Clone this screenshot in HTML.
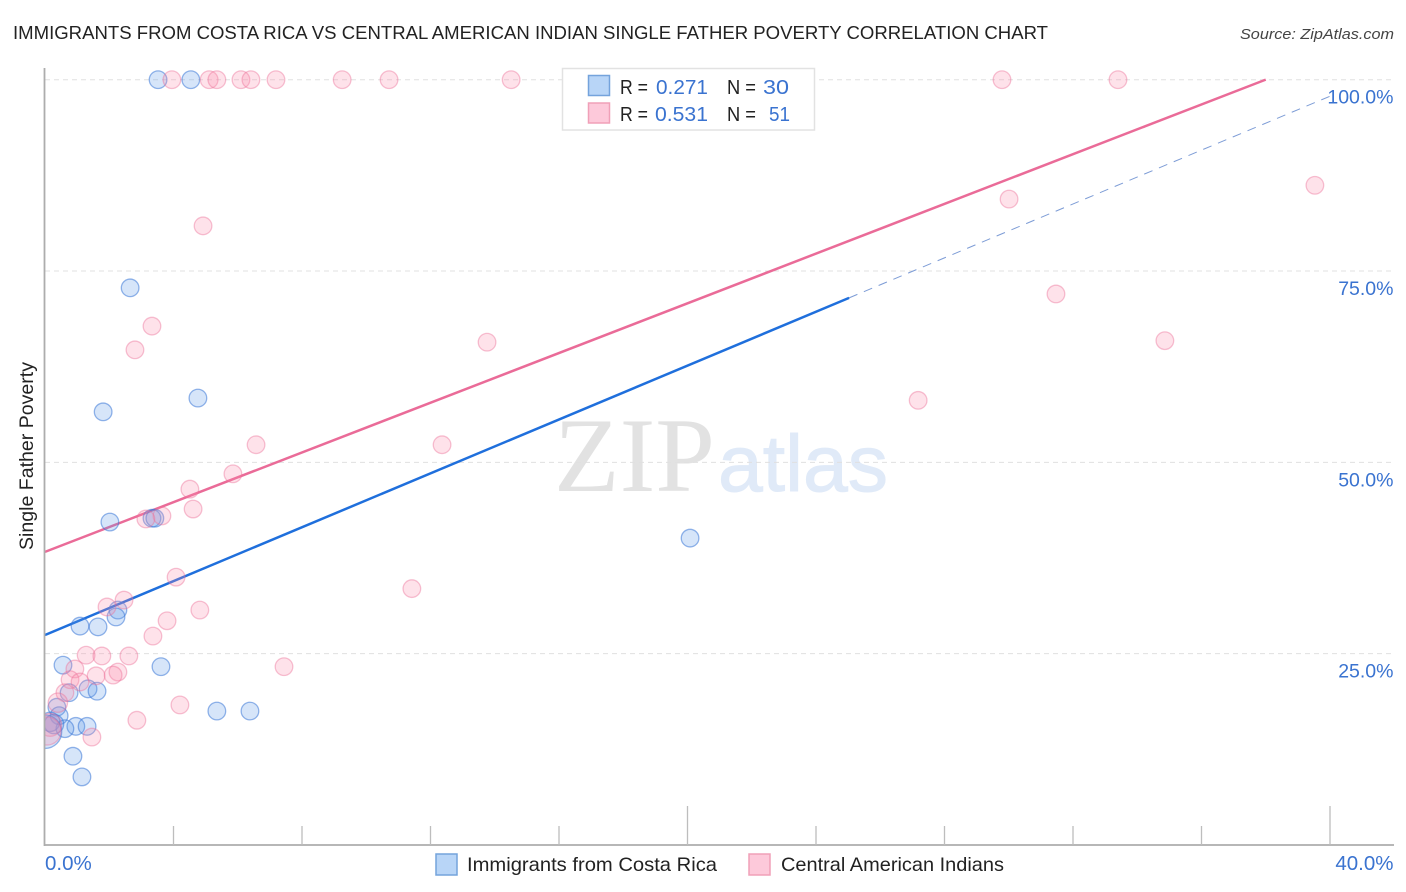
<!DOCTYPE html>
<html lang="en">
<head>
<meta charset="utf-8">
<title>Immigrants from Costa Rica vs Central American Indian Single Father Poverty Correlation Chart</title>
<style>
html,body{margin:0;padding:0;background:#fff;width:1406px;height:892px;overflow:hidden}
svg{display:block;font-family:"Liberation Sans",sans-serif}
</style>
</head>
<body>
<svg id="chart" xmlns="http://www.w3.org/2000/svg" width="1406" height="892" viewBox="0 0 1406 892">
  <defs><clipPath id="plot-clip"><rect x="45" y="60" width="1360" height="785"/></clipPath></defs>
  <text x="13" y="39" font-size="18.5" fill="#222" textLength="1035" lengthAdjust="spacingAndGlyphs">IMMIGRANTS FROM COSTA RICA VS CENTRAL AMERICAN INDIAN SINGLE FATHER POVERTY CORRELATION CHART</text>
  <text x="1394" y="39" font-size="15" font-style="italic" fill="#444" text-anchor="end" textLength="154" lengthAdjust="spacingAndGlyphs">Source: ZipAtlas.com</text>
  <g>
    <text x="554" y="491" font-family="'Liberation Serif',serif" font-size="106" fill="#e2e2e2" textLength="161" lengthAdjust="spacingAndGlyphs">ZIP</text>
    <text x="718" y="491" font-size="80" fill="#e0eaf8" stroke="#e0eaf8" stroke-width="1" textLength="170" lengthAdjust="spacingAndGlyphs">atlas</text>
  </g>
  <g id="grid"></g>
  <g id="trends"></g>
  <g id="points" clip-path="url(#plot-clip)"></g>
  <g id="axes"></g>
  <g>
    <rect x="562.5" y="68.5" width="252" height="61.5" fill="#fff" stroke="#e2e2e2" stroke-width="1.5"/>
    <rect x="588.5" y="75.5" width="21" height="20" fill="#b8d5f7" stroke="#74a3dc" stroke-width="1.5"/>
    <rect x="588.5" y="103" width="21" height="20" fill="#fdc9da" stroke="#f0a0b8" stroke-width="1.5"/>
    <g font-size="20">
      <text x="620" y="94" fill="#222" textLength="28" lengthAdjust="spacingAndGlyphs">R =</text>
      <text x="656" y="94" fill="#3a73d0" textLength="52" lengthAdjust="spacingAndGlyphs">0.271</text>
      <text x="727" y="94" fill="#222" textLength="29" lengthAdjust="spacingAndGlyphs">N =</text>
      <text x="763" y="94" fill="#3a73d0" textLength="26" lengthAdjust="spacingAndGlyphs" font-size="20.5">30</text>
      <text x="620" y="121" fill="#222" textLength="28" lengthAdjust="spacingAndGlyphs">R =</text>
      <text x="655" y="121" fill="#3a73d0" textLength="53" lengthAdjust="spacingAndGlyphs">0.531</text>
      <text x="727" y="121" fill="#222" textLength="29" lengthAdjust="spacingAndGlyphs">N =</text>
      <text x="769" y="121" fill="#3a73d0" textLength="21" lengthAdjust="spacingAndGlyphs" font-size="20.5">51</text>
    </g>
  </g>
  <text transform="translate(33,456) rotate(-90)" font-size="19" fill="#222" text-anchor="middle" textLength="188" lengthAdjust="spacingAndGlyphs">Single Father Poverty</text>
  <g>
    <rect x="436" y="854" width="21" height="21" fill="#b8d5f7" stroke="#74a3dc" stroke-width="1.5"/>
    <text x="467" y="871" font-size="19.5" fill="#222" textLength="250" lengthAdjust="spacingAndGlyphs">Immigrants from Costa Rica</text>
    <rect x="749" y="854" width="21" height="21" fill="#fdc9da" stroke="#f0a0b8" stroke-width="1.5"/>
    <text x="781" y="871" font-size="19.5" fill="#222" textLength="223" lengthAdjust="spacingAndGlyphs">Central American Indians</text>
  </g>
</svg>
<script>
const yTicks = [25, 50, 75, 100];
const yTickLabels = ['25.0%', '50.0%', '75.0%', '100.0%'];
const xTicks = [4, 8, 12, 16, 20, 24, 28, 32, 36, 40];
const xMajorTicks = [20, 40];
const xEndValues = [0, 40];
const xEndLabels = ['0.0%', '40.0%'];

const costaRicaX = [3.52,4.54,2.65,1.81,4.76,2.02,3.33,3.42,20.08,2.27,2.21,1.09,1.65,0.56,3.61,1.34,1.62,0.75,5.35,6.38,0.37,0.44,0.96,1.31,0.62,0.16,0.28,0.87,1.15,0.0];
const costaRicaY = [100,100,72.8,56.6,58.4,42.2,42.7,42.7,40.1,30.7,29.8,28.6,28.5,23.5,23.3,20.4,20.1,19.9,17.5,17.5,18.0,16.9,15.5,15.5,15.2,16.1,15.8,11.6,8.9,14.8];
const costaRicaWeight = [1,1,1,1,1,1,1,1,1,1,1,1,1,1,1,1,1,1,1,1,1,1,1,1,1,1.1,1.1,1,1,1.9];

const centralAmericanX = [3.95,5.11,5.35,6.10,6.41,7.19,9.25,10.71,14.51,29.79,33.40,39.53,30.01,4.92,31.47,3.33,2.80,13.76,34.86,27.18,12.36,6.57,5.85,4.51,4.61,3.64,3.14,11.42,4.08,4.82,2.46,1.93,3.80,3.36,1.28,1.77,2.61,7.44,2.27,2.12,1.59,0.93,0.78,1.09,0.62,4.20,2.86,1.46,0.40,0.16,0.06];
const centralAmericanY = [100,100,100,100,100,100,100,100,100,100,100,86.2,84.4,80.9,72.0,67.8,64.7,65.7,65.9,58.1,52.3,52.3,48.5,46.5,43.9,43.0,42.6,33.5,35.0,30.7,32.0,31.1,29.3,27.3,24.8,24.7,24.7,23.3,22.6,22.2,22.1,23.0,21.6,21.3,19.9,18.3,16.3,14.1,18.6,15.7,14.9];
const centralAmericanWeight = [1,1,1,1,1,1,1,1,1,1,1,1,1,1,1,1,1,1,1,1,1,1,1,1,1,1,1,1,1,1,1,1,1,1,1,1,1,1,1,1,1,1,1,1,1,1,1,1,1.1,1.3,1.6];

const costaRicaTrendIntercept = 27.44;
const costaRicaTrendSlope = 1.76;
const costaRicaTrendSolidEnd = 25.03;
const costaRicaTrendDashedEnd = 40;
const centralAmericanTrendIntercept = 38.3;
const centralAmericanTrendSlope = 1.624;
const centralAmericanTrendEnd = 38;

const NS = 'http://www.w3.org/2000/svg';
const xScale = v => 45 + v * 32.125;
const yScale = v => 845 - v * 7.653;

function make(tag, parent, attrs) {
  const el = document.createElementNS(NS, tag);
  for (const k in attrs) el.setAttribute(k, attrs[k]);
  parent.appendChild(el);
  return el;
}

const grid = document.getElementById('grid');
const axes = document.getElementById('axes');
const trends = document.getElementById('trends');
const points = document.getElementById('points');

yTicks.forEach((t, i) => {
  const line = make('line', grid, {x1: 45, x2: 1394, y1: yScale(t), y2: yScale(t), stroke: '#e0e0e0', 'stroke-width': 1, 'stroke-dasharray': '5 4'});
  
  
  const label = make('text', axes, {x: 1393.5, y: yScale(t) + 24, 'text-anchor': 'end', 'font-size': 19.5, fill: '#3a73d0'});
  
  
  label.textContent = yTickLabels[i];
});

const yAxis = make('line', axes, {x1: 44.5, x2: 44.5, y1: 68, y2: 846, stroke: '#adadad', 'stroke-width': 1.8});


const xAxis = make('line', axes, {x1: 44, x2: 1394, y1: 845, y2: 845, stroke: '#adadad', 'stroke-width': 1.8});



xTicks.forEach(t => {
  const major = xMajorTicks.includes(t);
  const tick = make('line', axes, {x1: xScale(t), x2: xScale(t), y1: major ? 806 : 826, y2: 845, stroke: '#bdbdbd', 'stroke-width': 1.3});
  
  
});

xEndValues.forEach((v, i) => {
  const label = make('text', axes, {x: i === 0 ? xScale(v) : 1393.5, y: 870, 'text-anchor': i === 0 ? 'start' : 'end', 'font-size': 20.5, fill: '#3a73d0'});
  
  
  label.textContent = xEndLabels[i];
});

const costaRicaValue = x => costaRicaTrendIntercept + costaRicaTrendSlope * x;
const centralAmericanValue = x => centralAmericanTrendIntercept + centralAmericanTrendSlope * x;

const dashed = make('line', trends, {x1: xScale(costaRicaTrendSolidEnd), y1: yScale(costaRicaValue(costaRicaTrendSolidEnd)), x2: xScale(costaRicaTrendDashedEnd), y2: yScale(costaRicaValue(costaRicaTrendDashedEnd)), stroke: '#7d9cd6', 'stroke-width': 1, 'stroke-dasharray': '9 7'});


const solid = make('line', trends, {x1: xScale(0), y1: yScale(costaRicaValue(0)), x2: xScale(costaRicaTrendSolidEnd), y2: yScale(costaRicaValue(costaRicaTrendSolidEnd)), stroke: '#1f6fdc', 'stroke-width': 2.5});


const pinkLine = make('line', trends, {x1: xScale(0), y1: yScale(centralAmericanValue(0)), x2: xScale(centralAmericanTrendEnd), y2: yScale(centralAmericanValue(centralAmericanTrendEnd)), stroke: '#ea6b98', 'stroke-width': 2.5});



costaRicaX.forEach((x, i) => {
  const c = make('circle', points, {cx: xScale(x), cy: yScale(costaRicaY[i]), r: 8.8 * costaRicaWeight[i], fill: 'rgba(90,150,230,0.25)', stroke: 'rgba(60,120,215,0.55)', 'stroke-width': 1.3});
  
  
});
centralAmericanX.forEach((x, i) => {
  const c = make('circle', points, {cx: xScale(x), cy: yScale(centralAmericanY[i]), r: 8.8 * centralAmericanWeight[i], fill: 'rgba(250,140,170,0.25)', stroke: 'rgba(235,110,150,0.42)', 'stroke-width': 1.3});
  
  
});
</script>
</body>
</html>
